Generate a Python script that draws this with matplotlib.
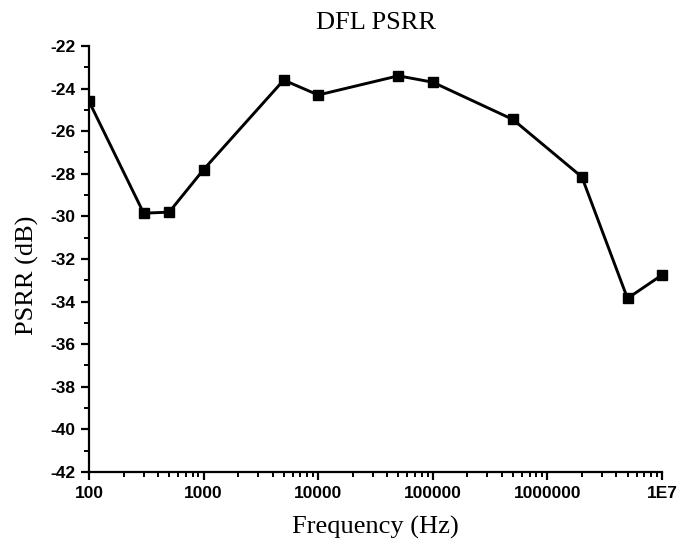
import matplotlib
matplotlib.use("Agg")
import matplotlib.pyplot as plt
from matplotlib.patches import Rectangle
from matplotlib.ticker import FixedLocator, LogLocator, NullFormatter

# PSRR sweep of the DFL block
freq_hz = [100, 300, 500, 1000, 5000, 10000, 50000, 100000, 500000, 2000000, 5000000, 10000000]
psrr_db = [-24.6, -29.85, -29.8, -27.8, -23.6, -24.3, -23.4, -23.7, -25.45, -28.15, -33.85, -32.75]

x_ticks = [100, 1000, 10000, 100000, 1000000, 10000000]
x_tick_labels = ["100", "1000", "10000", "100000", "1000000", "1E7"]
y_ticks = [-42, -40, -38, -36, -34, -32, -30, -28, -26, -24, -22]

plt.rcParams["axes.unicode_minus"] = False

fig = plt.figure(figsize=(6.78, 5.49), dpi=100)
ax = fig.add_axes([0.1313, 0.1403, 0.8451, 0.7759])

line, = ax.plot(freq_hz, psrr_db, color="black", linewidth=2.1,
                marker="s", markersize=7.5)
# clip only on the left/bottom so the last point is drawn whole
line.set_clip_path(Rectangle((0, 0), 1.2, 1.2, transform=ax.transAxes))

ax.set_xscale("log")
ax.set_xlim(100, 1e7)
ax.set_ylim(-42, -22)

ax.xaxis.set_major_locator(FixedLocator(x_ticks))
ax.set_xticklabels(x_tick_labels)
ax.xaxis.set_minor_locator(LogLocator(base=10, subs=range(2, 10), numticks=20))
ax.xaxis.set_minor_formatter(NullFormatter())
ax.set_yticks(y_ticks)
ax.set_yticks([v + 1 for v in y_ticks[:-1]], minor=True)

for side in ("top", "right"):
    ax.spines[side].set_visible(False)
for side in ("left", "bottom"):
    ax.spines[side].set_linewidth(1.6)

ax.tick_params(which="major", direction="out", length=6, width=1.6, pad=4)
ax.tick_params(which="minor", direction="out", length=3.5, width=1.4)
for lbl in ax.get_xticklabels() + ax.get_yticklabels():
    lbl.set_fontfamily("Liberation Sans")
    lbl.set_fontweight("bold")
    lbl.set_fontsize(12.5)

serif = "Liberation Serif"
ax.set_title("DFL PSRR", fontfamily=serif, fontsize=19, pad=12)
ax.set_xlabel("Frequency (Hz)", fontfamily=serif, fontsize=19, labelpad=11)
ax.set_ylabel("PSRR (dB)", fontfamily=serif, fontsize=19)
ax.yaxis.set_label_coords(-0.088, 0.462)

fig.savefig("out.png", dpi=100)
